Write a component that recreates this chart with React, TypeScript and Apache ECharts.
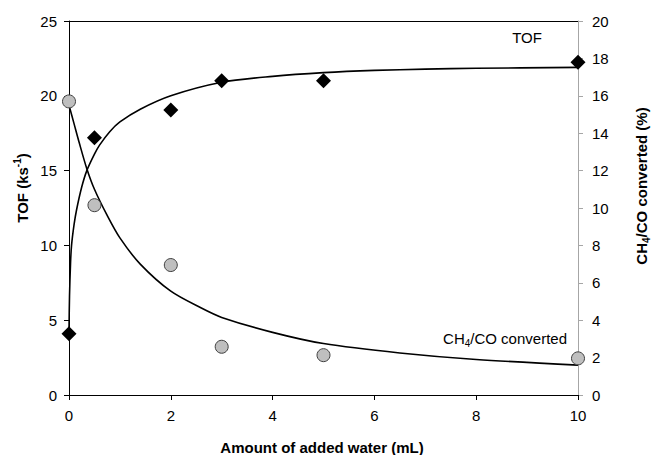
import React, { useEffect, useRef } from "react";
import * as echarts from "echarts";

// Measured points
const waterX = [0, 0.5, 2, 3, 5, 10];
const tofValues = [4.1, 17.2, 19.05, 21.0, 21.0, 22.25];
const convValues = [15.7, 10.15, 6.95, 2.58, 2.13, 1.96];

// Fitted trend curves
const tofFitX = [0, 0.01, 0.03, 0.05, 0.1, 0.15, 0.25, 0.35, 0.5, 0.6, 0.8, 1.0, 1.4, 2, 3, 4, 5, 6, 7, 8, 10];
const tofFitY = [4.3, 6.6, 8.8, 10.0, 11.4, 12.4, 13.9, 15.0, 16.1, 16.7, 17.6, 18.25, 19.1, 20.0, 20.9, 21.3, 21.55, 21.7, 21.78, 21.84, 21.9];
const convFitX = [0, 0.1, 0.2, 0.35, 0.5, 0.75, 1.0, 1.4, 2.0, 2.6, 3.0, 4.0, 5.0, 6.5, 8, 10];
const convFitY = [15.5, 14.5, 13.5, 12.1, 11.0, 9.6, 8.4, 7.0, 5.55, 4.65, 4.15, 3.35, 2.75, 2.25, 1.9, 1.6];

const xTicks = { min: 0, max: 10, interval: 2 };
const leftTicks = { min: 0, max: 25, interval: 5 };
const rightTicks = { min: 0, max: 20, interval: 2 };

const FONT = "Liberation Sans, Arial, sans-serif";

export default function App() {
  const ref = useRef<HTMLDivElement>(null);
  useEffect(() => {
    if (!ref.current) return;
    const chart = echarts.init(ref.current, undefined, { renderer: "svg" });
    const zip = (xs: number[], ys: number[]) => xs.map((x, i) => [x, ys[i]]);
    const tickLabel = { color: "#000", fontSize: 15, fontFamily: FONT };
    const tok = (size: number, bold: boolean, extra: Record<string, unknown> = {}) => ({
      fontSize: size,
      fontWeight: bold ? "bold" : "normal",
      fontFamily: FONT,
      color: "#000",
      fill: "#000",
      ...extra,
    });
    chart.setOption({
      animation: false,
      backgroundColor: "#fff",
      grid: { left: 69, right: 74, top: 21, bottom: 60, containLabel: false },
      xAxis: [
        {
          type: "value",
          position: "bottom",
          ...xTicks,
          axisLine: { show: true, onZero: false, lineStyle: { color: "#000", width: 1 } },
          axisTick: { show: true, length: 5, lineStyle: { color: "#000" } },
          axisLabel: { ...tickLabel, margin: 13 },
          splitLine: { show: false },
        },
        {
          type: "value",
          position: "top",
          ...xTicks,
          axisLine: { show: true, onZero: false, lineStyle: { color: "#000", width: 1 } },
          axisTick: { show: false },
          axisLabel: { show: false },
          splitLine: { show: false },
        },
      ],
      yAxis: [
        {
          type: "value",
          position: "left",
          ...leftTicks,
          axisLine: { show: true, onZero: false, lineStyle: { color: "#000", width: 1 } },
          axisTick: { show: true, length: 5, lineStyle: { color: "#000" } },
          axisLabel: { ...tickLabel, margin: 12 },
          splitLine: { show: false },
        },
        {
          type: "value",
          position: "right",
          ...rightTicks,
          axisLine: { show: true, onZero: false, lineStyle: { color: "#a6a6a6", width: 1 } },
          axisTick: { show: true, length: 5, lineStyle: { color: "#a6a6a6" } },
          axisLabel: { ...tickLabel, margin: 14 },
          splitLine: { show: false },
        },
      ],
      graphic: [
        {
          type: "text",
          x: 22,
          y: 188,
          rotation: Math.PI / 2,
          style: {
            text: "{b|TOF (ks}{sup|-1}{b|)}",
            align: "center",
            verticalAlign: "middle",
            fill: "#000",
            rich: {
              b: tok(15, true, { lineHeight: 20 }),
              sup: tok(10, true, { verticalAlign: "top", lineHeight: 12 }),
            },
          },
        },
        {
          type: "text",
          x: 641,
          y: 186,
          rotation: Math.PI / 2,
          style: {
            text: "{b|CH}{sub|4}{b|/CO converted (%)}",
            align: "center",
            verticalAlign: "middle",
            fill: "#000",
            rich: {
              b: tok(15, true, { lineHeight: 20 }),
              sub: tok(10, true, { verticalAlign: "bottom", lineHeight: 12 }),
            },
          },
        },
        {
          type: "text",
          x: 322,
          y: 447,
          style: {
            text: "Amount of added water (mL)",
            align: "center",
            verticalAlign: "middle",
            fontSize: 15,
            fontWeight: "bold",
            fontFamily: FONT,
            fill: "#000",
          },
        },
        {
          type: "text",
          x: 527,
          y: 37,
          style: {
            text: "TOF",
            align: "center",
            verticalAlign: "middle",
            fontSize: 15,
            fontFamily: FONT,
            fill: "#000",
          },
        },
        {
          type: "text",
          x: 567,
          y: 338,
          style: {
            text: "{a|CH}{s|4}{a|/CO converted}",
            align: "right",
            verticalAlign: "middle",
            fill: "#000",
            rich: {
              a: tok(15, false, { lineHeight: 20 }),
              s: tok(10, false, { verticalAlign: "bottom", lineHeight: 12 }),
            },
          },
        },
      ],
      series: [
        {
          type: "line",
          name: "TOF fit",
          xAxisIndex: 0,
          yAxisIndex: 0,
          data: zip(tofFitX, tofFitY),
          smooth: 0.3,
          showSymbol: false,
          symbol: "none",
          lineStyle: { color: "#000", width: 1.6 },
          z: 2,
        },
        {
          type: "line",
          name: "Conversion fit",
          xAxisIndex: 0,
          yAxisIndex: 1,
          data: zip(convFitX, convFitY),
          smooth: 0.3,
          showSymbol: false,
          symbol: "none",
          lineStyle: { color: "#000", width: 1.6 },
          z: 2,
        },
        {
          type: "scatter",
          name: "TOF",
          xAxisIndex: 0,
          yAxisIndex: 0,
          data: zip(waterX, tofValues),
          symbol: "diamond",
          symbolSize: 15,
          itemStyle: { color: "#000", borderColor: "#000", borderWidth: 0, opacity: 1 },
          z: 5,
        },
        {
          type: "scatter",
          name: "CH4/CO converted",
          xAxisIndex: 0,
          yAxisIndex: 1,
          data: zip(waterX, convValues),
          symbol: "circle",
          symbolSize: 13,
          itemStyle: { color: "#bfbfbf", borderColor: "#404040", borderWidth: 1, opacity: 1 },
          z: 5,
        },
      ],
    });
    return () => chart.dispose();
  }, []);
  return <div ref={ref} style={{ width: 652, height: 455, position: "absolute", left: 0, top: 0 }} />;
}
